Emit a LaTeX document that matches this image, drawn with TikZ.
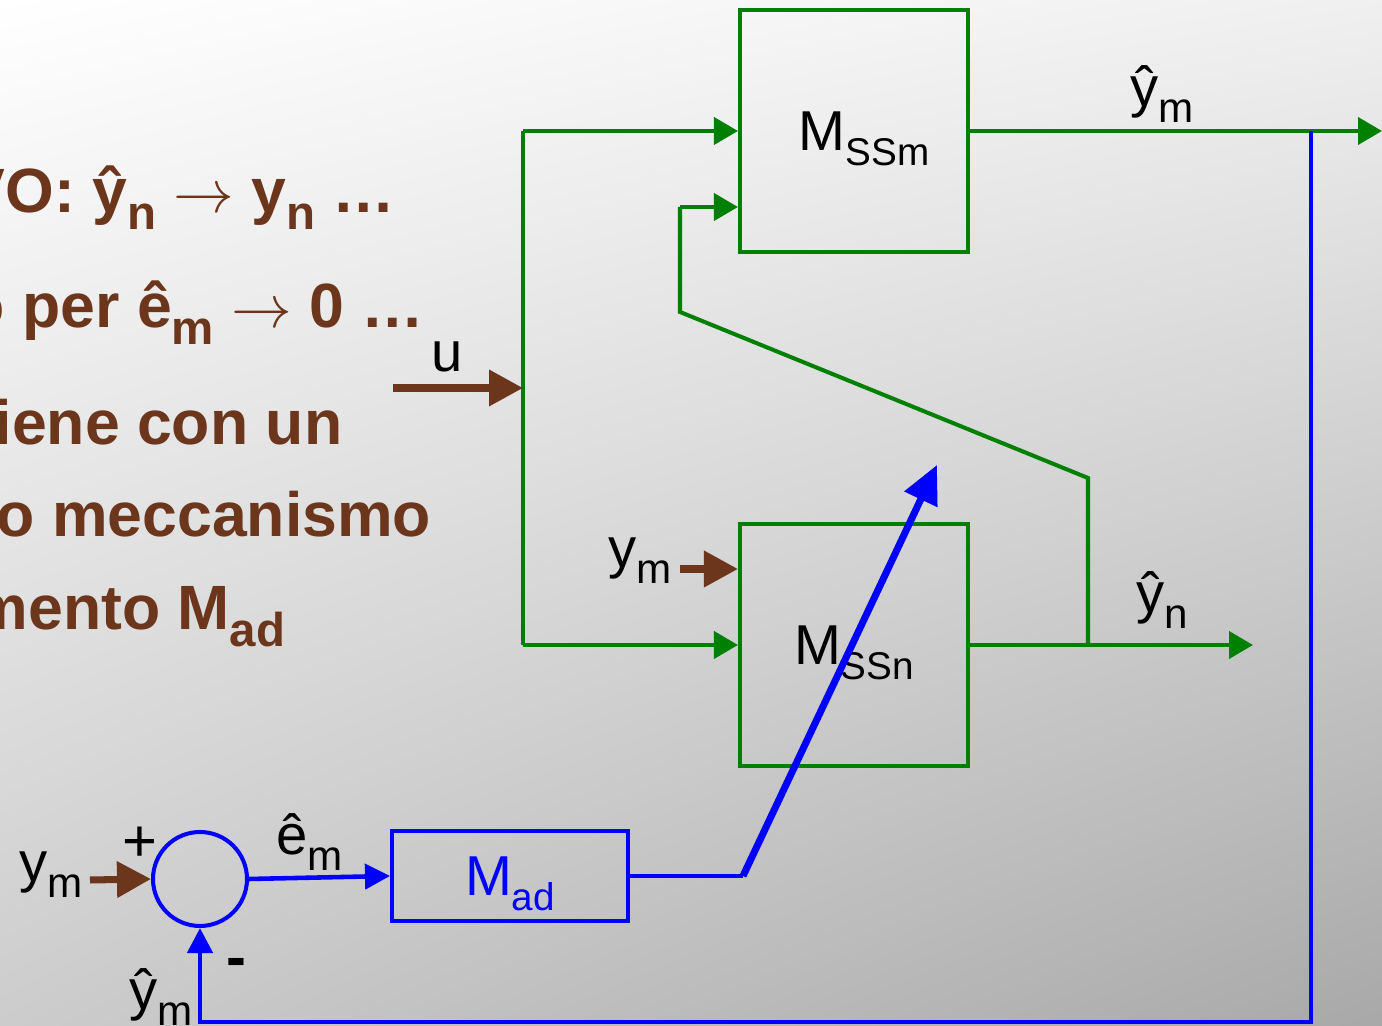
\documentclass[tikz,border=0pt]{standalone}
\usepackage{fontspec}
\setmainfont{Liberation Sans}
\usetikzlibrary{arrows.meta,positioning,calc,shadings}
\definecolor{sgreen}{RGB}{0,128,0}
\definecolor{sblue}{RGB}{0,0,255}
\definecolor{sbrown}{RGB}{108,54,28}
\newcommand{\sig}[2]{#1\raisebox{-4.4pt}{\fontsize{12}{12}\selectfont #2}}
\newcommand{\bsig}[2]{#1\raisebox{-4.8pt}{\fontsize{13.5}{14}\selectfont #2}}
\newcommand{\blab}[2]{#1\raisebox{-4.3pt}{\fontsize{11}{12}\selectfont #2}}
\tikzset{
  model/.style={draw=sgreen,line width=1.15pt,minimum width=2.28cm,minimum height=2.42cm,inner sep=0pt,text depth=0pt,font=\fontsize{16}{16}\selectfont},
  adapt/.style={draw=sblue,line width=1.15pt,minimum width=2.36cm,minimum height=0.9cm,inner sep=0pt,text depth=0pt,text=sblue,font=\fontsize{16}{16}\selectfont},
  sumnode/.style={circle,draw=sblue,line width=1.15pt,minimum size=0.94cm,inner sep=0pt},
  garr/.style={-{Triangle[length=2.4mm,width=2.7mm]},draw=sgreen,line width=1.15pt},
  gline/.style={draw=sgreen,line width=1.15pt},
  barr/.style={-{Triangle[length=2.5mm,width=2.5mm]},draw=sblue,line width=1.3pt},
  bbig/.style={-{Triangle[length=3.8mm,width=3.5mm]},draw=sblue,line width=2pt},
  brarr/.style={-{Triangle[length=3.4mm,width=3.5mm]},draw=sbrown,line width=2pt},
  sglab/.style={anchor=base west,inner sep=0pt,font=\fontsize{16}{16}\selectfont},
  txt/.style={anchor=base east,inner sep=0pt,text=sbrown,font=\bfseries\fontsize{17.8}{20}\selectfont}
}
\begin{document}
\begin{tikzpicture}[x=1cm,y=1cm]
\useasboundingbox (0,0) rectangle (13.82,-10.26);
\clip (0,0) rectangle (13.82,-10.26);
\shade[upper left=white,upper right=black!6,lower left=black!20,lower right=black!34] (0,0) rectangle (13.82,-10.26);
% slide text
\node[txt] (l1) at (3.96,-2.13) {VO: \bsig{ŷ}{n} $\rightarrow$ \bsig{y}{n} …};
\node[txt] (l2) at (4.25,-3.28) {o per \bsig{ê}{m} $\rightarrow$ 0 …};
\node[txt] (l3) at (3.43,-4.45) {iene con un};
\node[txt] (l4) at (4.32,-5.37) {o meccanismo};
\node[txt] (l5) at (2.86,-6.30) {mento \bsig{M}{ad}};
% blocks
\node[model] (mssm) at (8.54,-1.31) {\hspace*{0.2cm}\blab{M}{SSm}};
\node[model] (mssn) at (8.54,-6.45) {\blab{M}{SSn}};
\node[adapt] (mad) at (5.10,-8.76) {\blab{M}{ad}};
\node[sumnode] (sum) at (2.00,-8.79) {};
% green paths
\coordinate (jtop) at (5.23,-1.31);
\coordinate (jbot) at (5.23,-6.45);
\coordinate (ju) at (5.23,-3.88);
\coordinate (uin) at (3.93,-3.88);
\draw[gline] (jtop) -- (jbot);
\draw[garr] (jtop) -- (mssm.west);
\draw[garr] (jbot) -- (mssn.west);
\draw[brarr] (uin) -- (ju);
\coordinate (ymo) at (13.82,-1.31);
\draw[garr] (mssm.east) -- (ymo);
\coordinate (yno) at (12.53,-6.45);
\draw[garr] (mssn.east) -- (yno);
\coordinate (tap) at (10.88,-6.45);
\coordinate (k1) at (10.88,-4.78);
\coordinate (k2) at (6.80,-3.12);
\coordinate (k3) at (6.80,-2.07);
\draw[gline] (tap) -- (k1) -- (k2) -- (k3);
\draw[garr] (k3) -- (mssm.west |- k3);
\coordinate (ymn) at (6.80,-5.69);
\draw[brarr] (ymn) -- (mssn.west |- ymn);
% blue loop
\coordinate (bt) at (13.11,-1.31);
\coordinate (bb) at (13.11,-10.22);
\draw[barr] (bt) -- (bb) -| (sum.south);
\draw[barr] (sum.east) -- (mad.west);
\coordinate (d1) at (7.43,-8.81);
\coordinate (d2) at (9.37,-4.65);
\draw[draw=sblue,line width=1.3pt] (mad.east) -- (mad.east -| d1);
\draw[bbig] (mad.east -| d1) -- (d2);
\coordinate (ymi) at (0.90,-8.80);
\draw[brarr] (ymi) -- (sum.west);
% signal labels
\node[sglab] (lymt) at (11.30,-1.07) {\sig{ŷ}{m}};
\node[sglab] (lyn) at (11.36,-6.13) {\sig{ŷ}{n}};
\node[sglab] (lu) at (4.31,-3.72) {u};
\node[sglab] (lymn) at (6.08,-5.68) {\sig{y}{m}};
\node[sglab] (lem) at (2.76,-8.55) {\sig{ê}{m}};
\node[sglab] (lymi) at (0.19,-8.82) {\sig{y}{m}};
\node[sglab] (lymb) at (1.29,-10.10) {\sig{ŷ}{m}};
\node[font=\fontsize{17}{17}\selectfont,inner sep=0pt] (plus) at (1.40,-8.44) {+};
\node[font=\fontsize{17}{17}\selectfont\bfseries,inner sep=0pt] (minus) at (2.36,-9.68) {-};
\end{tikzpicture}
\end{document}
